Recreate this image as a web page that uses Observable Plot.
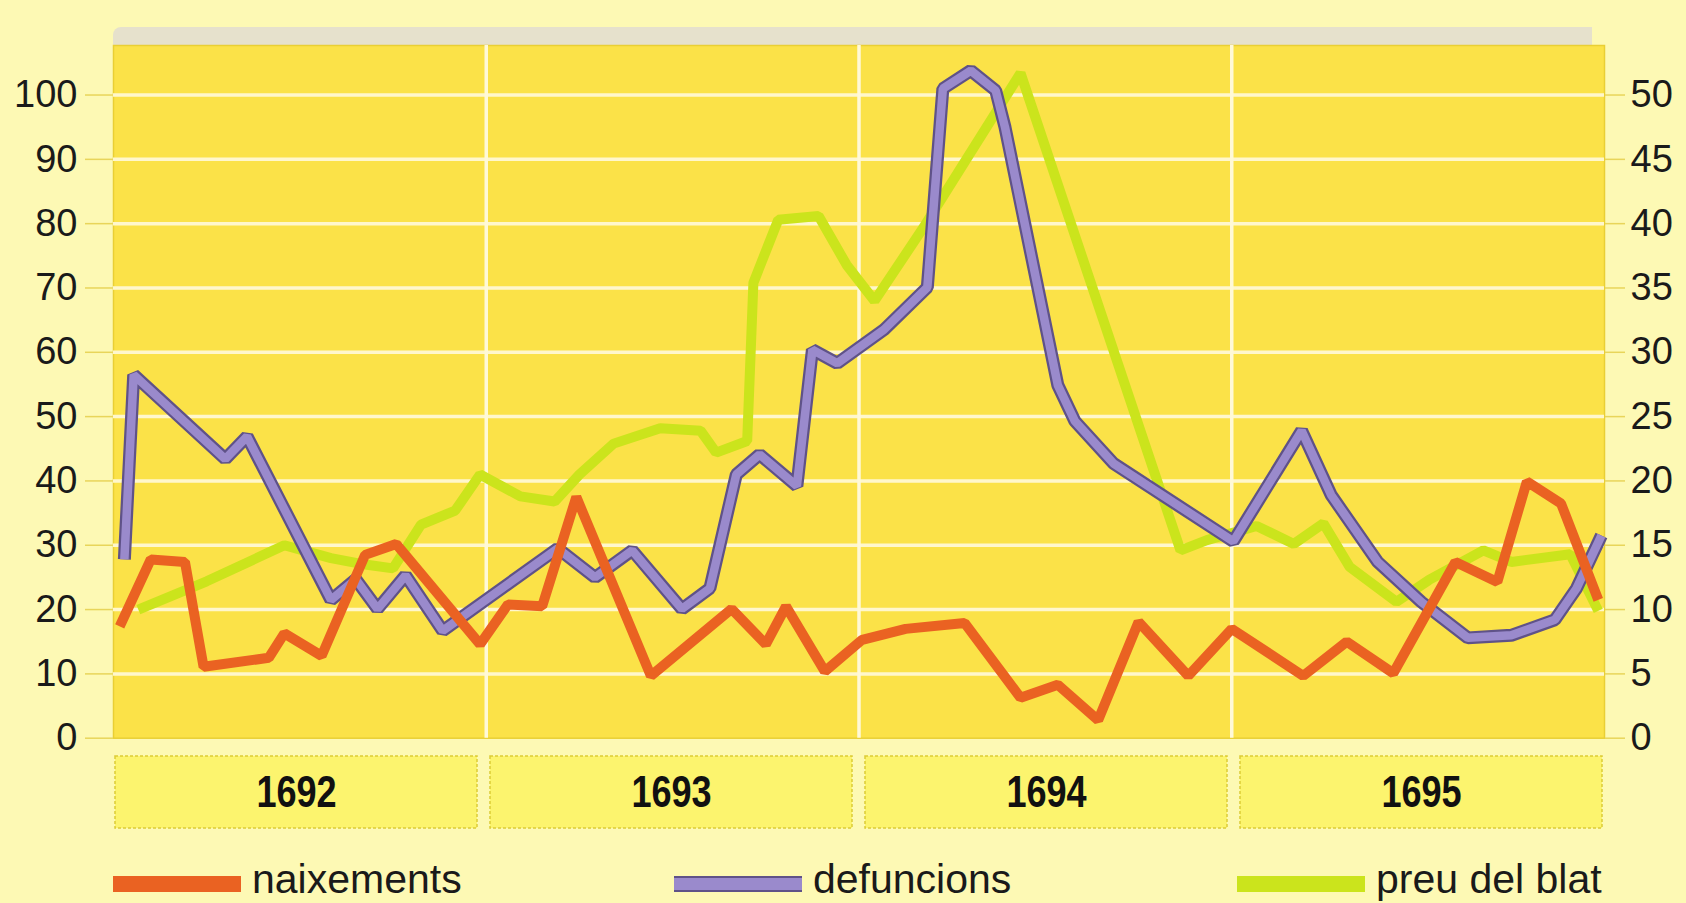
<!DOCTYPE html>
<html><head><meta charset="utf-8">
<script src="https://cdn.jsdelivr.net/npm/d3@7"></script>
<script src="https://cdn.jsdelivr.net/npm/@observablehq/plot@0.6"></script>
<style>
html,body{margin:0;padding:0;background:#fdf9b4;}
#page{position:relative;width:1686px;height:903px;overflow:hidden;font-family:"Liberation Sans",Arial,Helvetica,sans-serif;color:#1a1a1a;}
#strip{position:absolute;left:113px;top:27px;width:1479px;height:18px;background:#e6e1cc;border-top-left-radius:8px;}
#chart{position:absolute;left:0;top:0;}
#years{position:absolute;left:0;top:750px;}
#legend{position:absolute;left:0;top:859px;width:1686px;height:40px;}
.item{position:absolute;top:0;height:40px;display:flex;align-items:flex-start;font-size:41px;line-height:40px;white-space:nowrap;}
.sw{width:128px;height:16px;margin-top:17px;margin-right:11px;box-sizing:border-box;}
</style></head>
<body><div id="page">
<div id="strip"></div>
<div id="chart"></div>
<div id="years"></div>
<div id="legend"></div>
</div>
<script>
// ---- data (x = months since January 1692) ----
const years = ["1692", "1693", "1694", "1695"];
const leftTicks = [0, 10, 20, 30, 40, 50, 60, 70, 80, 90, 100];
const rightTicks = [0, 5, 10, 15, 20, 25, 30, 35, 40, 45, 50];
const yearBoundaries = [12, 24, 36];
const legendLabels = ["naixements", "defuncions", "preu del blat"];

const naixMonths = [0.2,1.2,2.3,2.9,5.0,5.5,6.7,8.1,9.1,11.8,12.7,13.8,14.9,17.3,19.9,21.0,21.65,22.9,24.1,25.5,27.4,29.2,30.4,31.7,33.0,34.6,36.0,38.3,39.7,41.2,43.2,44.55,45.5,46.6,47.8];
const naixValues = [17.4,27.8,27.4,11.1,12.5,16.3,12.8,28.5,30.2,14.6,20.8,20.5,37.5,9.7,20.1,14.6,20.5,10.4,15.3,17,17.9,6.3,8.3,2.8,18.1,9.7,17,9.7,15,10.1,27.4,24.3,39.9,36.5,21.5];

const defMonths = [0.35,0.65,3.6,4.3,7.0,7.8,8.5,9.4,10.6,14.3,15.5,16.7,18.3,19.2,20.05,20.8,22.0,22.5,23.3,24.8,26.2,26.7,27.6,28.4,28.7,30.4,30.95,32.2,36.05,38.25,39.2,40.7,42.1,43.6,45.0,46.4,47.1,47.9];
const defValues = [27.8,56.5,43.4,46.9,21.5,24.7,20.1,25.3,16.7,29.5,25,29.2,20.1,23.3,41,44.1,39.2,60.4,58.3,63.5,70.1,101,103.8,100.7,95,54.9,49.3,42.7,30.6,47.8,37.8,27.4,21.2,15.6,16,18.4,23.3,31.5];

// preu del blat, read on the right-hand axis (0-50)
const blatMonths = [0.8,3.0,5.5,7.0,8.1,9.0,9.9,11.0,11.8,13.1,14.2,15.0,16.1,17.6,18.9,19.4,20.4,20.6,21.4,22.7,23.6,24.5,26.1,29.2,34.35,35.2,36.8,38.0,38.95,39.8,41.3,42.35,44.1,45.0,46.9,47.8];
const blatValues = [10,12.2,15,14,13.5,13.2,16.6,17.7,20.5,18.8,18.4,20.5,22.9,24.1,23.9,22.2,23.1,35.4,40.3,40.6,36.8,34,39.8,51.7,14.6,15.4,16.5,15.1,16.7,13.3,10.6,12.3,14.6,13.7,14.3,9.9];

// ---- build tables ----
const naix = naixMonths.map((m, i) => ({month: m, value: naixValues[i]}));
const def = defMonths.map((m, i) => ({month: m, value: defValues[i]}));
const blat = blatMonths.map((m, i) => ({month: m, value: blatValues[i]}));
const ratio = d3.max(leftTicks) / d3.max(rightTicks);

const colors = {naix: "#ea6222", defDark: "#5f5288", def: "#9a8acc", blat: "#cbe41c"};
const font = '"Liberation Sans", Arial, Helvetica, sans-serif';

const chart = Plot.plot({
  width: 1686,
  height: 745,
  marginTop: 45,
  marginBottom: 7.3,
  marginLeft: 113,
  marginRight: 82,
  style: {background: "transparent", fontFamily: font, fontSize: "38px", color: "#1a1a1a", overflow: "visible"},
  x: {domain: [0, 48], axis: null},
  y: {domain: [0, 107.7], axis: null},
  marks: [
    Plot.frame({fill: "#fbe248", stroke: "#e9cf34", strokeWidth: 1.5}),
    Plot.ruleY(leftTicks.filter(d => d > 0), {stroke: "#fff7cc", strokeWidth: 3.5}),
    Plot.ruleX(yearBoundaries, {stroke: "#fff9d8", strokeWidth: 3.5}),
    Plot.axisY({anchor: "left", ticks: leftTicks, tickSize: 28, tickPadding: 8, stroke: "#e8d55a", strokeWidth: 1.5, fill: "#1a1a1a", fontSize: 38, label: null}),
    Plot.axisY({anchor: "right", ticks: rightTicks.map(d => d * ratio), tickFormat: d => d / ratio, tickSize: 20, tickPadding: 6, stroke: "#e8d55a", strokeWidth: 1.5, fill: "#1a1a1a", fontSize: 38, label: null}),
    Plot.line(blat, {x: "month", y: d => d.value * ratio, stroke: colors.blat, strokeWidth: 10, strokeLinejoin: "miter", strokeLinecap: "butt"}),
    Plot.line(def, {x: "month", y: "value", stroke: colors.defDark, strokeWidth: 13, strokeLinejoin: "miter", strokeLinecap: "butt"}),
    Plot.line(def, {x: "month", y: "value", stroke: colors.def, strokeWidth: 8.5, strokeLinejoin: "miter", strokeLinecap: "butt"}),
    Plot.line(naix, {x: "month", y: "value", stroke: colors.naix, strokeWidth: 10, strokeLinejoin: "miter", strokeLinecap: "butt"})
  ]
});
document.getElementById("chart").appendChild(chart);

const yearPlot = Plot.plot({
  width: 1686,
  height: 84,
  marginTop: 6,
  marginBottom: 6,
  marginLeft: 113,
  marginRight: 82,
  style: {background: "transparent", fontFamily: font, color: "#111"},
  x: {type: "band", domain: years, paddingInner: 0.034, paddingOuter: 0, axis: null},
  marks: [
    Plot.cell(years, {x: d => d, fill: "#fcf46e", stroke: "#dccb36", strokeWidth: 1.5, strokeDasharray: "3,2", inset: 0}),
    Plot.text(years, {x: d => d, text: d => d, fontSize: 44, fontWeight: "bold", fill: "#111"})
  ]
});
document.getElementById("years").appendChild(yearPlot);
// narrow (condensed) look for the year labels
yearPlot.querySelectorAll("text").forEach(t => {
  const tr = t.getAttribute("transform");
  if (tr && tr.includes("translate")) {
    t.setAttribute("transform", tr + " scale(0.82,1)");
  } else {
    const x = +t.getAttribute("x") || 0, y = +t.getAttribute("y") || 0;
    t.setAttribute("x", 0); t.setAttribute("y", 0);
    t.setAttribute("transform", (tr ? tr + " " : "") + `translate(${x},${y}) scale(0.82,1)`);
  }
});

// legend
const legendPos = [113, 674, 1237];
const legendSw = [
  "background:" + colors.naix,
  "background:" + colors.def + ";border-top:2px solid " + colors.defDark + ";border-bottom:2px solid " + colors.defDark,
  "background:" + colors.blat
];
const legend = document.getElementById("legend");
legendLabels.forEach((label, i) => {
  const item = document.createElement("div");
  item.className = "item";
  item.style.left = legendPos[i] + "px";
  const sw = document.createElement("div");
  sw.className = "sw";
  sw.style.cssText = legendSw[i];
  const t = document.createElement("span");
  t.textContent = label;
  item.appendChild(sw);
  item.appendChild(t);
  legend.appendChild(item);
});
</script>
</body></html>
